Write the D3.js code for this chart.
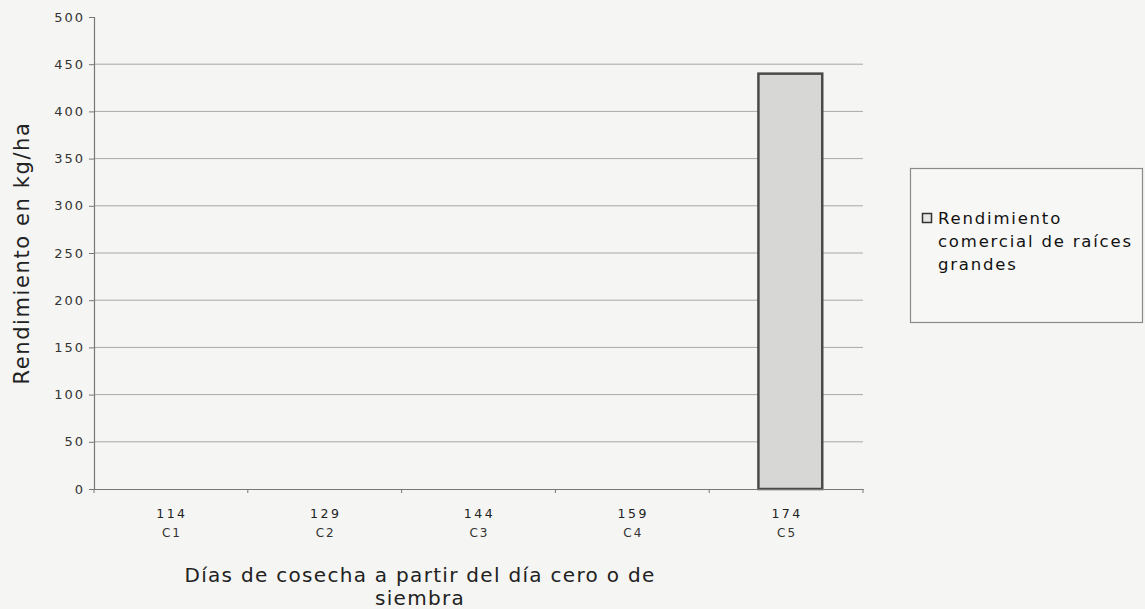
<!DOCTYPE html>
<html>
<head>
<meta charset="utf-8">
<script src="https://cdn.jsdelivr.net/npm/d3@7"></script>
<style>
  html, body { margin: 0; padding: 0; background: #f5f5f3; }
  svg { display: block; }
  text { font-family: "DejaVu Sans", Verdana, sans-serif; }
</style>
</head>
<body>
<svg id="chart" width="1145" height="609"></svg>
<script>
// Harvest days after sowing and harvest codes
const days = ["114", "129", "144", "159", "174"];
const codes = ["C1", "C2", "C3", "C4", "C5"];
// Commercial yield of large roots, kg/ha
const yieldValues = [0, 0, 0, 0, 440];
const yTicks = [0, 50, 100, 150, 200, 250, 300, 350, 400, 450, 500];
const seriesName = ["Rendimiento", "comercial de raíces", "grandes"];

const svg = d3.select("#chart");
const plot = { left: 94, right: 863, top: 17, bottom: 489 };

const x = d3.scaleBand().domain(codes).range([plot.left, plot.right]).paddingInner(0).paddingOuter(0);
const y = d3.scaleLinear().domain([0, 500]).range([plot.bottom, plot.top]);

// gridlines
svg.append("g")
  .selectAll("line")
  .data(yTicks.filter(d => d > 0 && d < 500))
  .join("line")
  .attr("x1", plot.left).attr("x2", plot.right)
  .attr("y1", d => y(d)).attr("y2", d => y(d))
  .attr("stroke", "#a9a9a9").attr("stroke-width", 1);

// bars
svg.append("g")
  .selectAll("rect")
  .data(codes.map((c, i) => ({ c, v: yieldValues[i] })).filter(d => d.v > 0))
  .join("rect")
  .attr("x", d => x(d.c) + x.bandwidth() * 0.32)
  .attr("width", x.bandwidth() * 0.415)
  .attr("y", d => y(d.v))
  .attr("height", d => y(0) - y(d.v))
  .attr("fill", "#d7d7d5")
  .attr("stroke", "#4a4a4a")
  .attr("stroke-width", 2.5);

// y axis
const yAxis = d3.axisLeft(y).tickValues(yTicks).tickSize(5).tickPadding(4).tickFormat(d3.format("d"));
const gy = svg.append("g").attr("transform", `translate(${plot.left},0)`).call(yAxis);
gy.select(".domain").attr("stroke", "#777").attr("stroke-width", 1.2);
gy.selectAll(".tick line").attr("stroke", "#777");
gy.selectAll(".tick text")
  .attr("fill", "#333").style("font-size", "13px").style("letter-spacing", "2px");

// x axis
const xAxis = d3.axisBottom(x).tickSize(0).tickFormat(() => "");
const gx = svg.append("g").attr("transform", `translate(0,${plot.bottom})`).call(xAxis);
gx.select(".domain").attr("stroke", "#777").attr("stroke-width", 1.2);
// category boundary ticks
gx.selectAll(".bound")
  .data(codes.map(c => x(c)).concat([plot.right]))
  .join("line").attr("class", "bound")
  .attr("x1", d => d).attr("x2", d => d).attr("y1", 0).attr("y2", 4)
  .attr("stroke", "#777");

const labels = svg.append("g");
labels.selectAll(".day")
  .data(codes)
  .join("text")
  .attr("x", d => x(d) + x.bandwidth() / 2 + 1)
  .attr("y", 518)
  .attr("text-anchor", "middle")
  .attr("fill", "#222")
  .style("font-size", "12.5px").style("letter-spacing", "2.5px")
  .text((d, i) => days[i]);
labels.selectAll(".code")
  .data(codes)
  .join("text")
  .attr("x", d => x(d) + x.bandwidth() / 2 + 1)
  .attr("y", 537)
  .attr("text-anchor", "middle")
  .attr("fill", "#333")
  .style("font-size", "12px").style("letter-spacing", "2px")
  .text(d => d);

// axis titles
svg.append("text")
  .attr("transform", "translate(29,253) rotate(-90)")
  .attr("text-anchor", "middle")
  .attr("fill", "#222")
  .style("font-size", "21px").style("letter-spacing", "1.6px")
  .text("Rendimiento en kg/ha");

const xt = svg.append("text")
  .attr("text-anchor", "middle")
  .attr("fill", "#222")
  .style("font-size", "20px").style("letter-spacing", "1.3px");
xt.append("tspan").attr("x", 420).attr("y", 582).text("Días de cosecha a partir del día cero o de");
xt.append("tspan").attr("x", 420).attr("y", 605).text("siembra");

// legend
const lg = svg.append("g");
lg.append("rect")
  .attr("x", 910.5).attr("y", 168.5).attr("width", 232).attr("height", 154)
  .attr("fill", "#f7f7f5").attr("stroke", "#8a8a8a").attr("stroke-width", 1.2);
lg.append("rect")
  .attr("x", 922.5).attr("y", 213.5).attr("width", 9).attr("height", 9)
  .attr("fill", "#e6e6e4").attr("stroke", "#333").attr("stroke-width", 1.5);
lg.selectAll(".lt")
  .data(seriesName)
  .join("text")
  .attr("x", 938)
  .attr("y", (d, i) => 224 + i * 23)
  .attr("fill", "#111")
  .style("font-size", "16.5px").style("letter-spacing", "1.8px")
  .text(d => d);
</script>
</body>
</html>
